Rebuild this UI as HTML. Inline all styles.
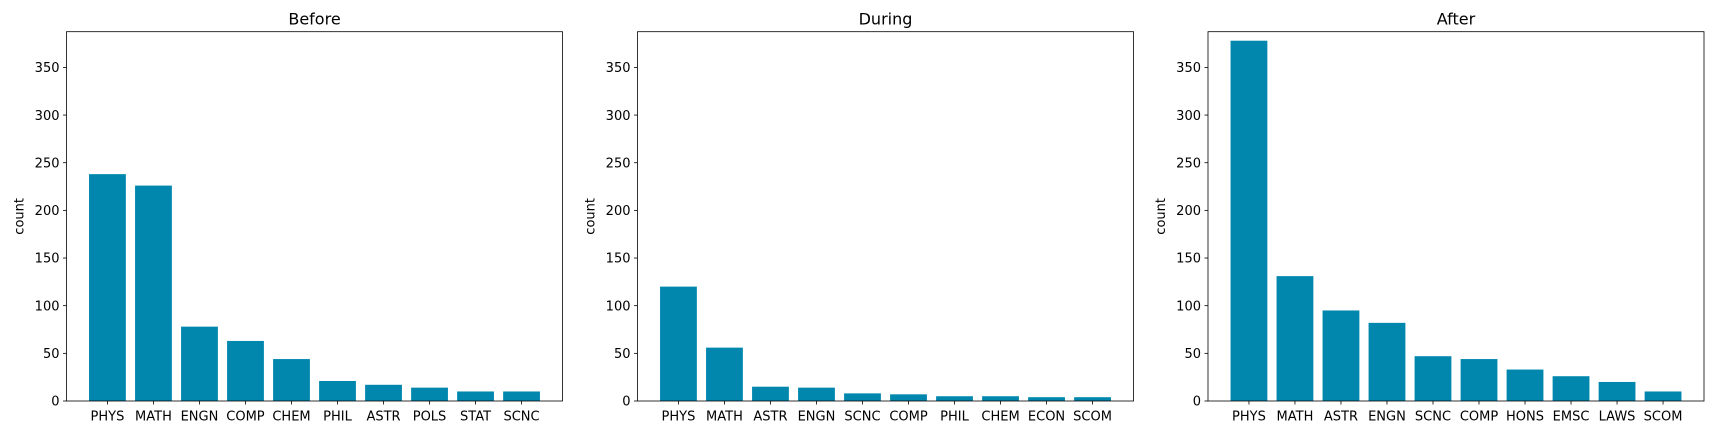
<!DOCTYPE html>
<html><head><meta charset="utf-8"><style>
html,body{margin:0;padding:0;background:#fff;}
svg{display:block;font-family:"DejaVu Sans","Liberation Sans",sans-serif;}
</style></head><body>
<svg id="chart" width="1713" height="435" xmlns="http://www.w3.org/2000/svg"></svg>
<script>
const titles = ["Before", "During", "After"];
const catsBefore = ["PHYS","MATH","ENGN","COMP","CHEM","PHIL","ASTR","POLS","STAT","SCNC"];
const valsBefore = [238,226,78,63,44,21,17,14,10,10];
const catsDuring = ["PHYS","MATH","ASTR","ENGN","SCNC","COMP","PHIL","CHEM","ECON","SCOM"];
const valsDuring = [120,56,15,14,8,7,5,5,4,4];
const catsAfter = ["PHYS","MATH","ASTR","ENGN","SCNC","COMP","HONS","EMSC","LAWS","SCOM"];
const valsAfter = [378,131,95,82,47,44,33,26,20,10];
const yTicks = [0,50,100,150,200,250,300,350];

const svgEl = document.getElementById('chart');
const NS = "http://www.w3.org/2000/svg";
function mk(tag, attrs, parent){ const e=document.createElementNS(NS,tag); for(const k in attrs) e.setAttribute(k,attrs[k]); (parent||svgEl).appendChild(e); return e; }

const panels = [[catsBefore,valsBefore],[catsDuring,valsDuring],[catsAfter,valsAfter]];
const lefts = [66.5, 637.5, 1208];
const W = 496, topY = 31.7, bottomY = 401;
const FS = 13, TFS = 16;
const allMax = Math.max(...valsBefore, ...valsDuring, ...valsAfter);
const yMax = allMax * 1.025;
panels.forEach((p, i) => {
  const cats = p[0], vals = p[1];
  const L = lefts[i];
  const g = mk('g', {});
  
  
  const n = cats.length;
  const x0 = -0.4 - 0.05*(n-0.2), x1 = n-1+0.4 + 0.05*(n-0.2);
  const xs = v => L + (v - x0) / (x1 - x0) * W;
  const ys = v => bottomY - v / yMax * (bottomY - topY);
  vals.forEach((v, j) => {
    const r = mk('rect', {x: xs(j-0.4), y: ys(v), width: xs(j+0.4)-xs(j-0.4), height: bottomY-ys(v), fill: '#0187ad'}, g);
    
    
    mk('line', {x1: xs(j), x2: xs(j), y1: bottomY, y2: bottomY+3.5, stroke: '#000', 'stroke-width': 0.8}, g);
    const t = mk('text', {x: xs(j), y: bottomY+19.5, 'font-size': FS, 'text-anchor': 'middle', fill: '#000'}, g);
    t.textContent = cats[j];
    
    
  });
  yTicks.forEach(v => {
    mk('line', {x1: L-3.5, x2: L, y1: ys(v), y2: ys(v), stroke: '#000', 'stroke-width': 0.8}, g);
    const t = mk('text', {x: L-7, y: ys(v)+4.7, 'font-size': FS, 'text-anchor': 'end', fill: '#000'}, g);
    t.textContent = v;
    
    
  });
  const frame = mk('rect', {x: L, y: topY, width: W, height: bottomY-topY, fill: 'none', stroke: '#000', 'stroke-width': 0.8}, g);
  
  
  const tt = mk('text', {x: L+W/2, y: topY-7, 'font-size': TFS, 'text-anchor': 'middle', fill: '#000'}, g);
  tt.textContent = titles[i];
  
  
  const yl = mk('text', {x: 0, y: 0, 'font-size': FS, 'text-anchor': 'middle', fill: '#000', transform: `translate(${L-43},${(topY+bottomY)/2}) rotate(-90)`}, g);
  yl.textContent = 'count';
  
  
});
</script>
</body></html>
